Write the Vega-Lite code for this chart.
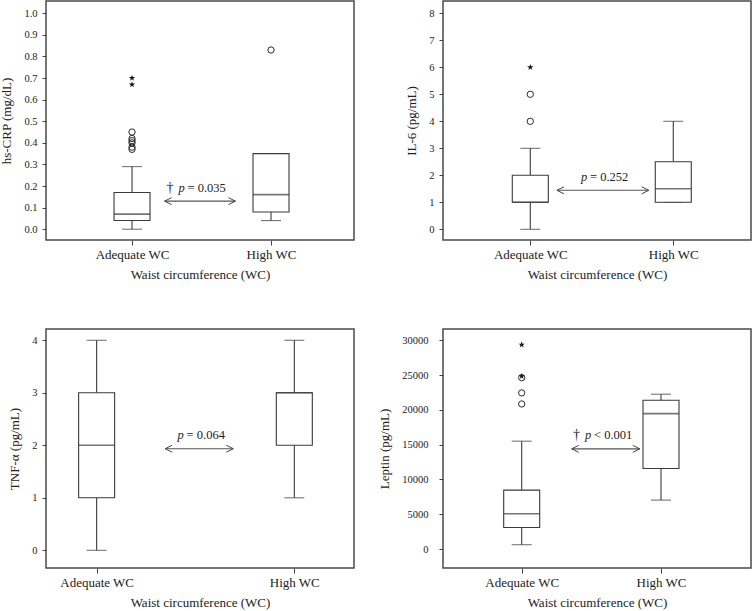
{
  "$schema": "https://vega.github.io/schema/vega-lite/v6.json",
  "padding": {"left": 0, "top": 0, "right": 0, "bottom": 0},
  "background": "white",
  "datasets": {
    "crp": [
      {"group": "Adequate WC", "lower": 0, "q1": 0.04, "median": 0.07, "q3": 0.17, "upper": 0.29},
      {"group": "High WC", "lower": 0.04, "q1": 0.08, "median": 0.16, "q3": 0.35, "upper": 0.35}
    ],
    "crp_pts": [
      {"group": "Adequate WC", "value": 0.45, "kind": "outlier"},
      {"group": "Adequate WC", "value": 0.42, "kind": "outlier"},
      {"group": "Adequate WC", "value": 0.41, "kind": "outlier"},
      {"group": "Adequate WC", "value": 0.40, "kind": "outlier"},
      {"group": "Adequate WC", "value": 0.38, "kind": "outlier"},
      {"group": "Adequate WC", "value": 0.37, "kind": "outlier"},
      {"group": "Adequate WC", "value": 0.70, "kind": "extreme"},
      {"group": "Adequate WC", "value": 0.67, "kind": "extreme"},
      {"group": "High WC", "value": 0.83, "kind": "outlier"}
    ],
    "crp_ann": [{"x1": 0.385, "x2": 0.615, "y": 0.13, "xp": 0.44, "ty": 0.193, "sig": "†", "stat": "= 0.035"}],
    "il6": [
      {"group": "Adequate WC", "lower": 0, "q1": 1, "median": 1, "q3": 2, "upper": 3},
      {"group": "High WC", "lower": 1, "q1": 1, "median": 1.5, "q3": 2.5, "upper": 4}
    ],
    "il6_pts": [
      {"group": "Adequate WC", "value": 4, "kind": "outlier"},
      {"group": "Adequate WC", "value": 5, "kind": "outlier"},
      {"group": "Adequate WC", "value": 6, "kind": "extreme"}
    ],
    "il6_ann": [{"x1": 0.37, "x2": 0.668, "y": 1.444, "xp": 0.458, "ty": 1.937, "sig": "", "stat": "= 0.252"}],
    "tnf": [
      {"group": "Adequate WC", "lower": 0, "q1": 1, "median": 2, "q3": 3, "upper": 4},
      {"group": "High WC", "lower": 1, "q1": 2, "median": 3, "q3": 3, "upper": 4}
    ],
    "tnf_ann": [{"x1": 0.387, "x2": 0.608, "y": 1.935, "xp": 0.437, "ty": 2.196, "sig": "", "stat": "= 0.064"}],
    "lep": [
      {"group": "Adequate WC", "lower": 620, "q1": 3100, "median": 5070, "q3": 8470, "upper": 15500},
      {"group": "High WC", "lower": 7030, "q1": 11570, "median": 19460, "q3": 21390, "upper": 22250}
    ],
    "lep_pts": [
      {"group": "Adequate WC", "value": 20850, "kind": "outlier"},
      {"group": "Adequate WC", "value": 22440, "kind": "outlier"},
      {"group": "Adequate WC", "value": 24630, "kind": "outlier"},
      {"group": "Adequate WC", "value": 24830, "kind": "extreme"},
      {"group": "Adequate WC", "value": 29370, "kind": "extreme"}
    ],
    "lep_ann": [{"x1": 0.418, "x2": 0.639, "y": 14400, "xp": 0.471, "ty": 16400, "sig": "†", "stat": "< 0.001"}]
  },
  "columns": 2,
  "bounds": "flush",
  "spacing": {"row": 89, "column": 89},
  "concat": [
    {
      "width": 308, "height": 239,
      "resolve": {"scale": {"x": "independent"}},
      "layer": [
        {
          "encoding": {"x": {"field": "group", "type": "nominal", "scale": {"type": "point", "domain": ["Adequate WC", "High WC"], "padding": 0.608, "align": 0.509}, "axis": {"title": "Waist circumference (WC)"}}},
          "layer": [
            {"data": {"name": "crp"}, "mark": {"type": "rule", "color": "#3a3a3a", "strokeWidth": 1.1},
             "encoding": {"y": {"field": "lower", "type": "quantitative", "scale": {"domain": [-0.05, 1.057], "nice": false, "zero": false}, "axis": {"title": "hs-CRP (mg/dL)", "values": [0, 0.1, 0.2, 0.3, 0.4, 0.5, 0.6, 0.7, 0.8, 0.9, 1.0], "tickCount": 11, "labelOverlap": false, "format": ".1f"}}, "y2": {"field": "q1"}}},
            {"data": {"name": "crp"}, "mark": {"type": "rule", "color": "#3a3a3a", "strokeWidth": 1.1},
             "encoding": {"y": {"field": "q3", "type": "quantitative"}, "y2": {"field": "upper"}}},
            {"data": {"name": "crp"}, "mark": {"type": "tick", "color": "#3a3a3a", "size": 20, "thickness": 1.1},
             "encoding": {"y": {"field": "lower", "type": "quantitative"}}},
            {"data": {"name": "crp"}, "mark": {"type": "tick", "color": "#3a3a3a", "size": 20, "thickness": 1.1},
             "encoding": {"y": {"field": "upper", "type": "quantitative"}}},
            {"data": {"name": "crp"}, "mark": {"type": "bar", "size": 36, "fill": "white", "stroke": "#3a3a3a", "strokeWidth": 1.1},
             "encoding": {"y": {"field": "q1", "type": "quantitative"}, "y2": {"field": "q3"}}},
            {"data": {"name": "crp"}, "mark": {"type": "tick", "color": "#3a3a3a", "size": 36, "thickness": 1.6},
             "encoding": {"y": {"field": "median", "type": "quantitative"}}},
            {"data": {"name": "crp_pts"}, "transform": [{"filter": "datum.kind == 'outlier'"}],
             "mark": {"type": "point", "shape": "circle", "filled": false, "size": 40, "stroke": "#2a2a2a", "strokeWidth": 1, "opacity": 1},
             "encoding": {"y": {"field": "value", "type": "quantitative"}}},
            {"data": {"name": "crp_pts"}, "transform": [{"filter": "datum.kind == 'extreme'"}],
             "mark": {"type": "point", "shape": "M0,-1L0.2245,-0.309L0.9511,-0.309L0.3633,0.118L0.5878,0.809L0,0.382L-0.5878,0.809L-0.3633,0.118L-0.9511,-0.309L-0.2245,-0.309Z", "filled": true, "size": 45, "color": "#111", "opacity": 1},
             "encoding": {"y": {"field": "value", "type": "quantitative"}}}
          ]
        },
        {
          "data": {"name": "crp_ann"},
          "layer": [
            {"mark": {"type": "rule", "color": "#555", "strokeWidth": 1.1},
             "encoding": {"x": {"field": "x1", "type": "quantitative", "scale": {"domain": [0, 1], "nice": false, "zero": false}, "axis": null}, "x2": {"field": "x2"}, "y": {"field": "y", "type": "quantitative", "axis": {"title": "hs-CRP (mg/dL)", "values": [0, 0.1, 0.2, 0.3, 0.4, 0.5, 0.6, 0.7, 0.8, 0.9, 1.0], "tickCount": 11, "labelOverlap": false, "format": ".1f"}}}},
            {"mark": {"type": "point", "shape": "M2,-1L0,0L2,1", "filled": false, "size": 49, "stroke": "#444", "strokeWidth": 1, "opacity": 1},
             "encoding": {"x": {"field": "x1", "type": "quantitative"}, "y": {"field": "y", "type": "quantitative"}}},
            {"mark": {"type": "point", "shape": "M-2,-1L0,0L-2,1", "filled": false, "size": 49, "stroke": "#444", "strokeWidth": 1, "opacity": 1},
             "encoding": {"x": {"field": "x2", "type": "quantitative"}, "y": {"field": "y", "type": "quantitative"}}},
            {"mark": {"type": "text", "fontSize": 12.5, "fontStyle": "italic", "align": "center", "baseline": "middle", "color": "#222"},
             "encoding": {"x": {"field": "xp", "type": "quantitative"}, "y": {"field": "ty", "type": "quantitative"}, "text": {"value": "p"}}},
            {"mark": {"type": "text", "fontSize": 12.5, "align": "left", "baseline": "middle", "dx": 6, "color": "#222"},
             "encoding": {"x": {"field": "xp", "type": "quantitative"}, "y": {"field": "ty", "type": "quantitative"}, "text": {"field": "stat"}}},
            {"mark": {"type": "text", "fontSize": 14, "align": "right", "baseline": "middle", "dx": -8, "color": "#222"},
             "encoding": {"x": {"field": "xp", "type": "quantitative"}, "y": {"field": "ty", "type": "quantitative"}, "text": {"field": "sig"}}}
          ]
        }
      ]
    },
    {
      "width": 308, "height": 239,
      "resolve": {"scale": {"x": "independent"}},
      "layer": [
        {
          "encoding": {"x": {"field": "group", "type": "nominal", "scale": {"type": "point", "domain": ["Adequate WC", "High WC"], "padding": 0.577, "align": 0.529}, "axis": {"title": "Waist circumference (WC)"}}},
          "layer": [
            {"data": {"name": "il6"}, "mark": {"type": "rule", "color": "#3a3a3a", "strokeWidth": 1.1},
             "encoding": {"y": {"field": "lower", "type": "quantitative", "scale": {"domain": [-0.396, 8.456], "nice": false, "zero": false}, "axis": {"title": "IL-6 (pg/mL)", "values": [0, 1, 2, 3, 4, 5, 6, 7, 8], "tickCount": 9, "labelOverlap": false, "format": "d"}}, "y2": {"field": "q1"}}},
            {"data": {"name": "il6"}, "mark": {"type": "rule", "color": "#3a3a3a", "strokeWidth": 1.1},
             "encoding": {"y": {"field": "q3", "type": "quantitative"}, "y2": {"field": "upper"}}},
            {"data": {"name": "il6"}, "mark": {"type": "tick", "color": "#3a3a3a", "size": 20, "thickness": 1.1},
             "encoding": {"y": {"field": "lower", "type": "quantitative"}}},
            {"data": {"name": "il6"}, "mark": {"type": "tick", "color": "#3a3a3a", "size": 20, "thickness": 1.1},
             "encoding": {"y": {"field": "upper", "type": "quantitative"}}},
            {"data": {"name": "il6"}, "mark": {"type": "bar", "size": 36, "fill": "white", "stroke": "#3a3a3a", "strokeWidth": 1.1},
             "encoding": {"y": {"field": "q1", "type": "quantitative"}, "y2": {"field": "q3"}}},
            {"data": {"name": "il6"}, "mark": {"type": "tick", "color": "#3a3a3a", "size": 36, "thickness": 1.6},
             "encoding": {"y": {"field": "median", "type": "quantitative"}}},
            {"data": {"name": "il6_pts"}, "transform": [{"filter": "datum.kind == 'outlier'"}],
             "mark": {"type": "point", "shape": "circle", "filled": false, "size": 40, "stroke": "#2a2a2a", "strokeWidth": 1, "opacity": 1},
             "encoding": {"y": {"field": "value", "type": "quantitative"}}},
            {"data": {"name": "il6_pts"}, "transform": [{"filter": "datum.kind == 'extreme'"}],
             "mark": {"type": "point", "shape": "M0,-1L0.2245,-0.309L0.9511,-0.309L0.3633,0.118L0.5878,0.809L0,0.382L-0.5878,0.809L-0.3633,0.118L-0.9511,-0.309L-0.2245,-0.309Z", "filled": true, "size": 45, "color": "#111", "opacity": 1},
             "encoding": {"y": {"field": "value", "type": "quantitative"}}}
          ]
        },
        {
          "data": {"name": "il6_ann"},
          "layer": [
            {"mark": {"type": "rule", "color": "#555", "strokeWidth": 1.1},
             "encoding": {"x": {"field": "x1", "type": "quantitative", "scale": {"domain": [0, 1], "nice": false, "zero": false}, "axis": null}, "x2": {"field": "x2"}, "y": {"field": "y", "type": "quantitative", "axis": {"title": "IL-6 (pg/mL)", "values": [0, 1, 2, 3, 4, 5, 6, 7, 8], "tickCount": 9, "labelOverlap": false, "format": "d"}}}},
            {"mark": {"type": "point", "shape": "M2,-1L0,0L2,1", "filled": false, "size": 49, "stroke": "#444", "strokeWidth": 1, "opacity": 1},
             "encoding": {"x": {"field": "x1", "type": "quantitative"}, "y": {"field": "y", "type": "quantitative"}}},
            {"mark": {"type": "point", "shape": "M-2,-1L0,0L-2,1", "filled": false, "size": 49, "stroke": "#444", "strokeWidth": 1, "opacity": 1},
             "encoding": {"x": {"field": "x2", "type": "quantitative"}, "y": {"field": "y", "type": "quantitative"}}},
            {"mark": {"type": "text", "fontSize": 12.5, "fontStyle": "italic", "align": "center", "baseline": "middle", "color": "#222"},
             "encoding": {"x": {"field": "xp", "type": "quantitative"}, "y": {"field": "ty", "type": "quantitative"}, "text": {"value": "p"}}},
            {"mark": {"type": "text", "fontSize": 12.5, "align": "left", "baseline": "middle", "dx": 6, "color": "#222"},
             "encoding": {"x": {"field": "xp", "type": "quantitative"}, "y": {"field": "ty", "type": "quantitative"}, "text": {"field": "stat"}}}
          ]
        }
      ]
    },
    {
      "width": 308, "height": 239,
      "resolve": {"scale": {"x": "independent"}},
      "layer": [
        {
          "encoding": {"x": {"field": "group", "type": "nominal", "scale": {"type": "point", "domain": ["Adequate WC", "High WC"], "padding": 0.279, "align": 0.459}, "axis": {"title": "Waist circumference (WC)"}}},
          "layer": [
            {"data": {"name": "tnf"}, "mark": {"type": "rule", "color": "#3a3a3a", "strokeWidth": 1.1},
             "encoding": {"y": {"field": "lower", "type": "quantitative", "scale": {"domain": [-0.337, 4.215], "nice": false, "zero": false}, "axis": {"title": "TNF-α (pg/mL)", "values": [0, 1, 2, 3, 4], "tickCount": 5, "labelOverlap": false, "format": "d"}}, "y2": {"field": "q1"}}},
            {"data": {"name": "tnf"}, "mark": {"type": "rule", "color": "#3a3a3a", "strokeWidth": 1.1},
             "encoding": {"y": {"field": "q3", "type": "quantitative"}, "y2": {"field": "upper"}}},
            {"data": {"name": "tnf"}, "mark": {"type": "tick", "color": "#3a3a3a", "size": 20, "thickness": 1.1},
             "encoding": {"y": {"field": "lower", "type": "quantitative"}}},
            {"data": {"name": "tnf"}, "mark": {"type": "tick", "color": "#3a3a3a", "size": 20, "thickness": 1.1},
             "encoding": {"y": {"field": "upper", "type": "quantitative"}}},
            {"data": {"name": "tnf"}, "mark": {"type": "bar", "size": 36, "fill": "white", "stroke": "#3a3a3a", "strokeWidth": 1.1},
             "encoding": {"y": {"field": "q1", "type": "quantitative"}, "y2": {"field": "q3"}}},
            {"data": {"name": "tnf"}, "mark": {"type": "tick", "color": "#3a3a3a", "size": 36, "thickness": 1.6},
             "encoding": {"y": {"field": "median", "type": "quantitative"}}}
          ]
        },
        {
          "data": {"name": "tnf_ann"},
          "layer": [
            {"mark": {"type": "rule", "color": "#555", "strokeWidth": 1.1},
             "encoding": {"x": {"field": "x1", "type": "quantitative", "scale": {"domain": [0, 1], "nice": false, "zero": false}, "axis": null}, "x2": {"field": "x2"}, "y": {"field": "y", "type": "quantitative", "axis": {"title": "TNF-α (pg/mL)", "values": [0, 1, 2, 3, 4], "tickCount": 5, "labelOverlap": false, "format": "d"}}}},
            {"mark": {"type": "point", "shape": "M2,-1L0,0L2,1", "filled": false, "size": 49, "stroke": "#444", "strokeWidth": 1, "opacity": 1},
             "encoding": {"x": {"field": "x1", "type": "quantitative"}, "y": {"field": "y", "type": "quantitative"}}},
            {"mark": {"type": "point", "shape": "M-2,-1L0,0L-2,1", "filled": false, "size": 49, "stroke": "#444", "strokeWidth": 1, "opacity": 1},
             "encoding": {"x": {"field": "x2", "type": "quantitative"}, "y": {"field": "y", "type": "quantitative"}}},
            {"mark": {"type": "text", "fontSize": 12.5, "fontStyle": "italic", "align": "center", "baseline": "middle", "color": "#222"},
             "encoding": {"x": {"field": "xp", "type": "quantitative"}, "y": {"field": "ty", "type": "quantitative"}, "text": {"value": "p"}}},
            {"mark": {"type": "text", "fontSize": 12.5, "align": "left", "baseline": "middle", "dx": 6, "color": "#222"},
             "encoding": {"x": {"field": "xp", "type": "quantitative"}, "y": {"field": "ty", "type": "quantitative"}, "text": {"field": "stat"}}}
          ]
        }
      ]
    },
    {
      "width": 308, "height": 239,
      "resolve": {"scale": {"x": "independent"}},
      "layer": [
        {
          "encoding": {"x": {"field": "group", "type": "nominal", "scale": {"type": "point", "domain": ["Adequate WC", "High WC"], "padding": 0.6055, "align": 0.4665}, "axis": {"title": "Waist circumference (WC)"}}},
          "layer": [
            {"data": {"name": "lep"}, "mark": {"type": "rule", "color": "#3a3a3a", "strokeWidth": 1.1},
             "encoding": {"y": {"field": "lower", "type": "quantitative", "scale": {"domain": [-2727, 31622], "nice": false, "zero": false}, "axis": {"title": "Leptin (pg/mL)", "values": [0, 5000, 10000, 15000, 20000, 25000, 30000], "tickCount": 7, "labelOverlap": false, "labelPadding": 11, "format": "d"}}, "y2": {"field": "q1"}}},
            {"data": {"name": "lep"}, "mark": {"type": "rule", "color": "#3a3a3a", "strokeWidth": 1.1},
             "encoding": {"y": {"field": "q3", "type": "quantitative"}, "y2": {"field": "upper"}}},
            {"data": {"name": "lep"}, "mark": {"type": "tick", "color": "#3a3a3a", "size": 20, "thickness": 1.1},
             "encoding": {"y": {"field": "lower", "type": "quantitative"}}},
            {"data": {"name": "lep"}, "mark": {"type": "tick", "color": "#3a3a3a", "size": 20, "thickness": 1.1},
             "encoding": {"y": {"field": "upper", "type": "quantitative"}}},
            {"data": {"name": "lep"}, "mark": {"type": "bar", "size": 36, "fill": "white", "stroke": "#3a3a3a", "strokeWidth": 1.1},
             "encoding": {"y": {"field": "q1", "type": "quantitative"}, "y2": {"field": "q3"}}},
            {"data": {"name": "lep"}, "mark": {"type": "tick", "color": "#3a3a3a", "size": 36, "thickness": 1.6},
             "encoding": {"y": {"field": "median", "type": "quantitative"}}},
            {"data": {"name": "lep_pts"}, "transform": [{"filter": "datum.kind == 'outlier'"}],
             "mark": {"type": "point", "shape": "circle", "filled": false, "size": 40, "stroke": "#2a2a2a", "strokeWidth": 1, "opacity": 1},
             "encoding": {"y": {"field": "value", "type": "quantitative"}}},
            {"data": {"name": "lep_pts"}, "transform": [{"filter": "datum.kind == 'extreme'"}],
             "mark": {"type": "point", "shape": "M0,-1L0.2245,-0.309L0.9511,-0.309L0.3633,0.118L0.5878,0.809L0,0.382L-0.5878,0.809L-0.3633,0.118L-0.9511,-0.309L-0.2245,-0.309Z", "filled": true, "size": 45, "color": "#111", "opacity": 1},
             "encoding": {"y": {"field": "value", "type": "quantitative"}}}
          ]
        },
        {
          "data": {"name": "lep_ann"},
          "layer": [
            {"mark": {"type": "rule", "color": "#555", "strokeWidth": 1.1},
             "encoding": {"x": {"field": "x1", "type": "quantitative", "scale": {"domain": [0, 1], "nice": false, "zero": false}, "axis": null}, "x2": {"field": "x2"}, "y": {"field": "y", "type": "quantitative", "axis": {"title": "Leptin (pg/mL)", "values": [0, 5000, 10000, 15000, 20000, 25000, 30000], "tickCount": 7, "labelOverlap": false, "labelPadding": 11, "format": "d"}}}},
            {"mark": {"type": "point", "shape": "M2,-1L0,0L2,1", "filled": false, "size": 49, "stroke": "#444", "strokeWidth": 1, "opacity": 1},
             "encoding": {"x": {"field": "x1", "type": "quantitative"}, "y": {"field": "y", "type": "quantitative"}}},
            {"mark": {"type": "point", "shape": "M-2,-1L0,0L-2,1", "filled": false, "size": 49, "stroke": "#444", "strokeWidth": 1, "opacity": 1},
             "encoding": {"x": {"field": "x2", "type": "quantitative"}, "y": {"field": "y", "type": "quantitative"}}},
            {"mark": {"type": "text", "fontSize": 12.5, "fontStyle": "italic", "align": "center", "baseline": "middle", "color": "#222"},
             "encoding": {"x": {"field": "xp", "type": "quantitative"}, "y": {"field": "ty", "type": "quantitative"}, "text": {"value": "p"}}},
            {"mark": {"type": "text", "fontSize": 12.5, "align": "left", "baseline": "middle", "dx": 6, "color": "#222"},
             "encoding": {"x": {"field": "xp", "type": "quantitative"}, "y": {"field": "ty", "type": "quantitative"}, "text": {"field": "stat"}}},
            {"mark": {"type": "text", "fontSize": 14, "align": "right", "baseline": "middle", "dx": -8, "color": "#222"},
             "encoding": {"x": {"field": "xp", "type": "quantitative"}, "y": {"field": "ty", "type": "quantitative"}, "text": {"field": "sig"}}}
          ]
        }
      ]
    }
  ],
  "config": {
    "font": "Liberation Serif",
    "view": {"stroke": "#4a4a4a", "strokeWidth": 1.5},
    "axis": {"grid": false, "domain": false, "tickColor": "#444", "labelColor": "#222", "titleColor": "#222", "titleFontWeight": "normal", "labelFont": "Liberation Serif", "titleFont": "Liberation Serif", "labelOverlap": false},
    "axisY": {"tickSize": 4, "labelPadding": 5, "titlePadding": 10, "labelFontSize": 10.5, "titleFontSize": 13, "labelOverlap": false},
    "axisX": {"tickSize": 5, "labelPadding": 3, "titlePadding": 7, "labelFontSize": 13, "titleFontSize": 13, "labelAngle": 0}
  }
}
